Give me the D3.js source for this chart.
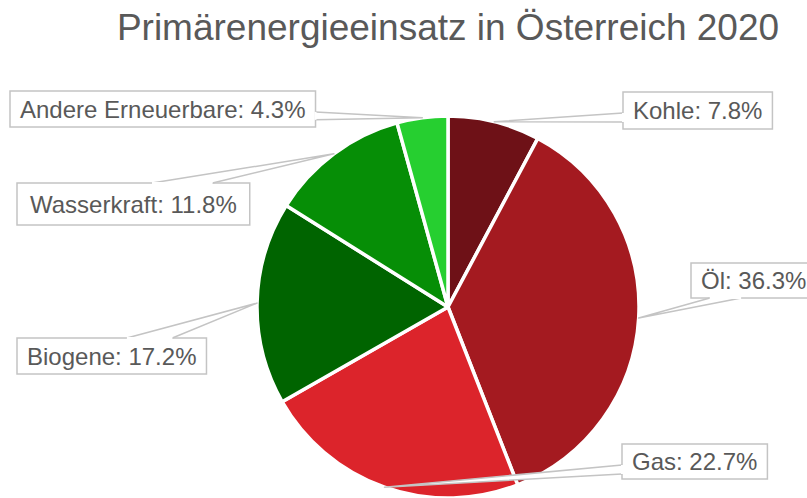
<!DOCTYPE html>
<html>
<head>
<meta charset="utf-8">
<script src="https://cdn.jsdelivr.net/npm/d3@7"></script>
<style>
  body { margin: 0; background: #fff; }
  svg { display: block; font-family: "Liberation Sans", Arial, sans-serif; }
</style>
</head>
<body>
<div id="chart"></div>
<script>
// Data
const categories = ['Kohle', 'Öl', 'Gas', 'Biogene', 'Wasserkraft', 'Andere Erneuerbare'];
const shares = [7.8, 36.3, 22.7, 17.2, 11.8, 4.3];
const sliceColors = ['#6e1117', '#a41a20', '#dc242b', '#006400', '#068e06', '#26cf30'];
const chartTitle = 'Primärenergieeinsatz in Österreich 2020';

// Label box placement (layout only): top-left corner, padding, edge that carries the callout, base fractions
const labelLayout = [
  { x: 623, y: 92, h: 37, pad: 10, side: 'left', base: [0.57, 0.81] },
  { x: 691, y: 263, h: 35, pad: 10, side: 'bottom', base: [0.15, 0.40] },
  { x: 622, y: 444, h: 35, pad: 10, side: 'left', base: [0.60, 0.86] },
  { x: 17, y: 338, h: 36, pad: 10, side: 'top', base: [0.58, 0.82] },
  { x: 17, y: 183, h: 42, pad: 13, side: 'top', base: [0.58, 0.84] },
  { x: 10, y: 91, h: 36, pad: 10, side: 'right', base: [0.58, 0.80] },
];

const width = 807;
const height = 498;
const cx = 448;
const cy = 307;
const radius = 191;

const svg = d3.select('#chart').append('svg')
  .attr('width', width)
  .attr('height', height);

// Title
svg.append('text')
  .attr('x', cx)
  .attr('y', 40)
  .attr('text-anchor', 'middle')
  .attr('font-size', 37)
  .attr('fill', '#595959')
  .text(chartTitle);

const data = categories.map((c, i) => ({ name: c, value: shares[i], color: sliceColors[i] }));

const pie = d3.pie()
  .value((d) => d.value)
  .sort(null);

const arc = d3.arc()
  .innerRadius(0)
  .outerRadius(radius);

const arcs = pie(data);

const g = svg.append('g')
  .attr('transform', `translate(${cx},${cy})`);

g.selectAll('.slice')
  .data(arcs)
  .join('path')
  .attr('class', 'slice')
  .attr('d', arc)
  .attr('fill', (d) => d.data.color)
  .attr('stroke', '#fff')
  .attr('stroke-width', 3.5)
  .attr('stroke-linejoin', 'round');

// Callout labels
const fmt = d3.format('.1f');
const labels = svg.append('g');

arcs.forEach((d, i) => {
  const lay = labelLayout[i];
  const mid = (d.startAngle + d.endAngle) / 2;
  const tip = [cx + radius * Math.sin(mid), cy - radius * Math.cos(mid)];

  const lg = labels.append('g');
  const rect = lg.append('rect')
    .attr('fill', '#fff')
    .attr('stroke', '#c4c4c4')
    .attr('stroke-width', 1.5);
  const text = lg.append('text')
    .attr('x', lay.x + lay.pad)
    .attr('y', lay.y + lay.h / 2 + 8.5)
    .attr('font-size', 24)
    .attr('fill', '#595959')
    .text(`${d.data.name}: ${fmt(d.data.value)}%`);

  const w = text.node().getComputedTextLength() + 2 * lay.pad;
  rect.attr('x', lay.x).attr('y', lay.y).attr('width', w).attr('height', lay.h);

  let p1;
  let p2;
  if (lay.side === 'left' || lay.side === 'right') {
    const ex = lay.side === 'left' ? lay.x : lay.x + w;
    p1 = [ex, lay.y + lay.h * lay.base[0]];
    p2 = [ex, lay.y + lay.h * lay.base[1]];
  } else {
    const ey = lay.side === 'top' ? lay.y : lay.y + lay.h;
    p1 = [lay.x + w * lay.base[0], ey];
    p2 = [lay.x + w * lay.base[1], ey];
  }

  // wedge pointer, white inside so it covers the box border
  lg.append('path')
    .attr('d', `M${p1[0]},${p1[1]}L${tip[0]},${tip[1]}L${p2[0]},${p2[1]}`)
    .attr('fill', '#fff')
    .attr('stroke', '#c4c4c4')
    .attr('stroke-width', 1.5)
    .attr('stroke-linejoin', 'round');
  lg.append('line')
    .attr('x1', p1[0]).attr('y1', p1[1])
    .attr('x2', p2[0]).attr('y2', p2[1])
    .attr('stroke', '#fff')
    .attr('stroke-width', 2);
});
</script>
</body>
</html>
